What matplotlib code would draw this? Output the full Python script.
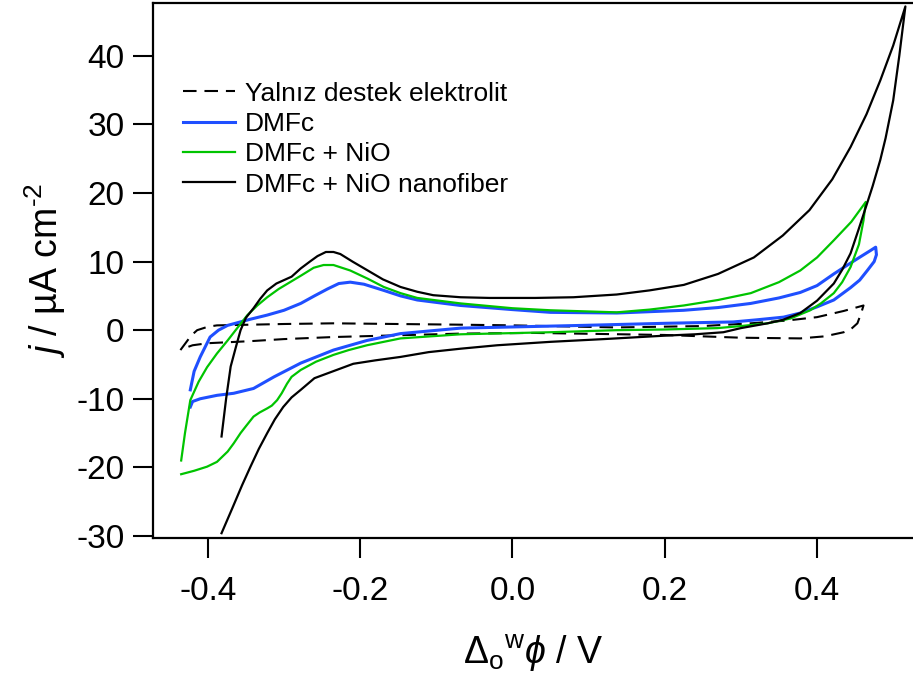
import matplotlib
matplotlib.use("Agg")
import matplotlib.pyplot as plt

plt.rcParams['font.family'] = ['Liberation Sans', 'DejaVu Sans']
plt.rcParams['mathtext.fontset'] = 'custom'
plt.rcParams['mathtext.rm'] = 'Liberation Sans'
plt.rcParams['mathtext.it'] = 'Liberation Sans:italic'
plt.rcParams['mathtext.fallback'] = 'stixsans'
plt.rcParams['axes.unicode_minus'] = False

# Potential (V) and current density (uA cm^-2) along each scan
support_v = [-0.436, -0.430, -0.422, -0.414, -0.400, -0.388, -0.300, -0.235, -0.068, 0.0,
             0.137, 0.250, 0.313, 0.360, 0.400, 0.435, 0.461,
             0.458, 0.453, 0.445, 0.435, 0.410, 0.378, 0.300, 0.200, 0.028, -0.068,
             -0.235, -0.300, -0.344, -0.400, -0.420, -0.430]
support_j = [-2.9, -2.0, -0.8, 0.0, 0.5, 0.7, 0.9, 1.0, 0.8, 0.7,
             0.4, 0.6, 1.0, 1.4, 1.9, 2.8, 3.6,
             2.5, 1.0, 0.2, -0.3, -0.9, -1.2, -1.1, -0.7, -0.4, -0.5,
             -1.0, -1.3, -1.6, -1.9, -2.2, -2.6]

dmfc_v = [-0.423, -0.418, -0.410, -0.397, -0.386, -0.374, -0.344, -0.322, -0.300, -0.278,
          -0.260, -0.243, -0.228, -0.213, -0.195, -0.169, -0.147, -0.125, -0.068, 0.0,
          0.050, 0.137, 0.225, 0.270, 0.313, 0.350, 0.378, 0.400, 0.422, 0.440,
          0.457, 0.470, 0.477,
          0.478, 0.475, 0.466, 0.456, 0.444, 0.422, 0.400, 0.378, 0.356, 0.320,
          0.290, 0.200, 0.093, -0.068, -0.147, -0.191, -0.235, -0.278, -0.313, -0.340,
          -0.366, -0.388, -0.410, -0.420, -0.423]
dmfc_j = [-8.7, -6.0, -3.9, -1.0, 0.0, 0.7, 1.6, 2.2, 2.9, 3.9,
          5.0, 6.0, 6.8, 7.0, 6.7, 5.8, 5.0, 4.4, 3.6, 3.0,
          2.6, 2.5, 2.9, 3.3, 3.9, 4.7, 5.5, 6.5, 8.2, 9.5,
          10.7, 11.6, 12.1,
          11.0, 10.0, 8.7, 7.3, 6.2, 4.4, 3.4, 2.5, 1.9, 1.5,
          1.2, 1.0, 0.7, 0.3, -0.5, -1.5, -2.9, -4.8, -6.8, -8.5,
          -9.2, -9.5, -10.0, -10.4, -11.2]

nio_v = [-0.435, -0.430, -0.423, -0.412, -0.401, -0.388, -0.374, -0.360, -0.348, -0.335,
         -0.322, -0.307, -0.292, -0.277, -0.261, -0.248, -0.235, -0.213, -0.190, -0.169,
         -0.147, -0.125, -0.068, 0.0, 0.050, 0.137, 0.180, 0.225, 0.270, 0.313,
         0.350, 0.378, 0.400, 0.422, 0.445, 0.464,
         0.461, 0.455, 0.444, 0.433, 0.422, 0.405, 0.391, 0.365, 0.335, 0.300,
         0.269, 0.200, 0.137, 0.050, -0.068, -0.147, -0.191, -0.215, -0.235, -0.258,
         -0.278, -0.290, -0.296, -0.303, -0.309, -0.316, -0.322, -0.332, -0.340, -0.350,
         -0.357, -0.366, -0.374, -0.388, -0.401, -0.418, -0.435]
nio_j = [-19.0, -15.0, -10.2, -7.5, -5.4, -3.4, -1.5, 0.5, 2.2, 3.6,
         4.8, 6.0, 7.0, 8.0, 9.1, 9.5, 9.5, 8.7, 7.5, 6.3,
         5.4, 4.7, 3.9, 3.2, 2.9, 2.6, 3.0, 3.6, 4.4, 5.4,
         7.0, 8.7, 10.6, 13.1, 15.8, 18.7,
         16.0, 12.5, 9.2, 7.0, 5.4, 3.9, 2.9, 1.7, 1.0, 0.6,
         0.3, 0.1, 0.0, -0.3, -0.6, -1.2, -2.2, -2.9, -3.6, -4.6,
         -5.8, -6.8, -7.8, -9.2, -10.2, -11.0, -11.4, -12.0, -12.6, -14.0,
         -15.0, -16.5, -17.7, -19.2, -19.9, -20.5, -21.0]

nanofiber_v = [-0.382, -0.376, -0.370, -0.363, -0.357, -0.350, -0.340, -0.331, -0.322, -0.310,
               -0.300, -0.290, -0.278, -0.266, -0.256, -0.245, -0.235, -0.226, -0.210, -0.190,
               -0.170, -0.147, -0.125, -0.104, -0.068, -0.030, 0.030, 0.080, 0.137, 0.180,
               0.225, 0.270, 0.317, 0.355, 0.390, 0.420, 0.444, 0.465, 0.483, 0.500, 0.516,
               0.508, 0.500, 0.490, 0.483, 0.473, 0.464, 0.454, 0.444, 0.433, 0.422,
               0.400, 0.378, 0.355, 0.335, 0.300, 0.277, 0.240, 0.200, 0.120, 0.050,
               -0.020, -0.068, -0.110, -0.147, -0.180, -0.209, -0.226, -0.243, -0.260, -0.278,
               -0.290, -0.301, -0.312, -0.322, -0.333, -0.344, -0.355, -0.368, -0.382]
nanofiber_j = [-15.5, -10.0, -5.3, -2.4, 0.0, 1.8, 3.2, 4.6, 5.8, 6.8,
               7.3, 7.8, 9.0, 10.0, 10.8, 11.4, 11.4, 11.1, 10.0, 8.7,
               7.4, 6.3, 5.6, 5.1, 4.8, 4.7, 4.7, 4.8, 5.2, 5.8,
               6.6, 8.2, 10.6, 13.8, 17.5, 22.0, 26.7, 31.5, 36.4, 41.5, 47.2,
               40.0, 33.5, 28.0, 24.8, 21.0, 17.9, 14.5, 11.2, 8.8, 6.8,
               4.3, 2.5, 1.5, 1.0, 0.3, -0.3, -0.6, -0.8, -1.3, -1.7,
               -2.2, -2.7, -3.2, -3.9, -4.4, -4.9, -5.6, -6.3, -7.0, -8.7,
               -9.8, -11.2, -13.0, -15.0, -17.3, -19.9, -22.6, -26.0, -29.6]

labels = ['Yalnız destek elektrolit', 'DMFc', 'DMFc + NiO', 'DMFc + NiO nanofiber']
x_ticks = [-0.4, -0.2, 0.0, 0.2, 0.4]
y_ticks = [-30, -20, -10, 0, 10, 20, 30, 40]

fig = plt.figure(figsize=(9.13, 6.84), dpi=100)
ax = fig.add_axes([153 / 913, (684 - 538) / 684, (913 - 153) / 913, (538 - 3) / 684])

ax.plot(support_v, support_j, color='black', lw=1.5, dashes=(6.5, 3.8), label=labels[0])
ax.plot(dmfc_v, dmfc_j, color='#1f4fff', lw=2.2, label=labels[1])
ax.plot(nio_v, nio_j, color='#00c400', lw=1.6, label=labels[2])
ax.plot(nanofiber_v, nanofiber_j, color='black', lw=1.6, label=labels[3])

ax.set_xlim(-0.472, 0.526)
ax.set_ylim(-30.3, 47.7)
ax.set_xticks(x_ticks)
ax.set_xticklabels([f'{t:.1f}' for t in x_ticks])
ax.set_yticks(y_ticks)
ax.tick_params(direction='out', length=14.5, width=1.5, labelsize=24)
ax.tick_params(axis='x', pad=13)
ax.tick_params(axis='y', pad=6)
ax.spines['right'].set_visible(False)
for s in ('left', 'bottom', 'top'):
    ax.spines[s].set_linewidth(1.6)

ax.set_ylabel(r'$j$ / µA cm$^{\text{-2}}$', fontsize=27, labelpad=6)
ax.set_xlabel(r'$\Delta_{\mathrm{o}}{}^{\mathrm{w}}\phi$ / V', fontsize=27, labelpad=18)

ax.legend(loc='upper left', bbox_to_anchor=(0.039, 0.853), frameon=False, fontsize=19,
          handlelength=2.0, handletextpad=0.35, labelspacing=0.24, borderpad=0,
          borderaxespad=0)

fig.savefig('out.png', dpi=100)
